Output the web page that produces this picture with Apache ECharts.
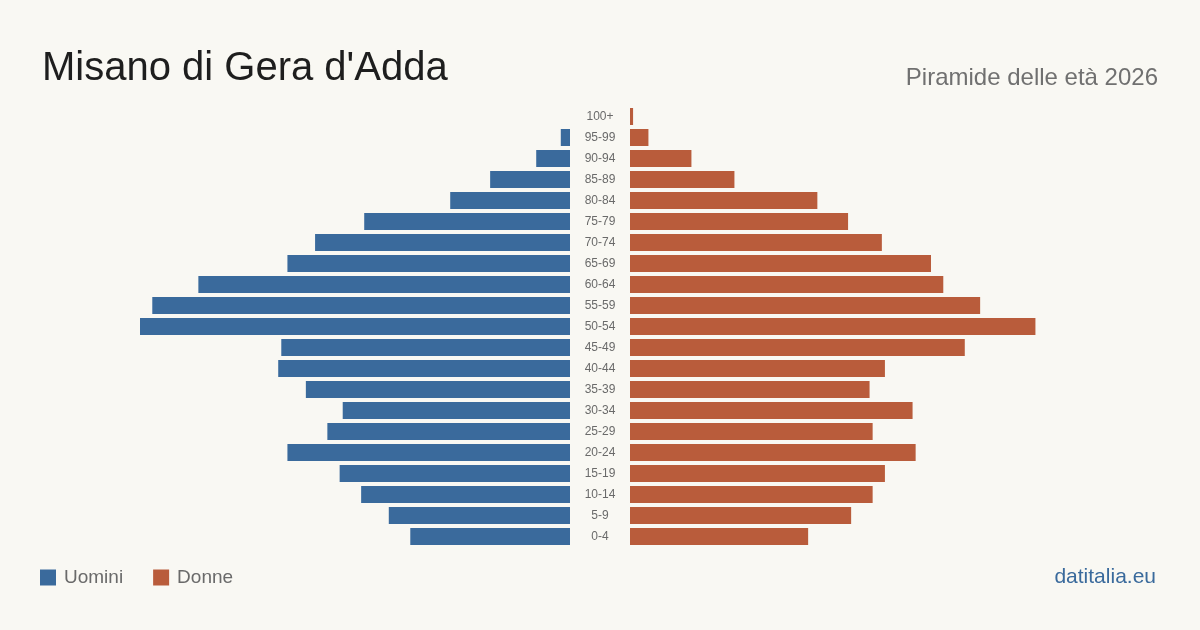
<!DOCTYPE html>
<html>
<head>
<meta charset="utf-8">
<script src="https://cdn.jsdelivr.net/npm/echarts@6/dist/echarts.min.js"></script>
<style>
  html, body { margin: 0; padding: 0; background: #f9f8f3; }
  #chart { width: 1200px; height: 630px; }
</style>
</head>
<body>
<div id="chart"></div>
<script>
// age groups, bottom to top
const ageGroups = ["0-4", "5-9", "10-14", "15-19", "20-24", "25-29", "30-34", "35-39", "40-44", "45-49",
  "50-54", "55-59", "60-64", "65-69", "70-74", "75-79", "80-84", "85-89", "90-94", "95-99", "100+"];
const men = [52, 59, 68, 75, 92, 79, 74, 86, 95, 94, 140, 136, 121, 92, 83, 67, 39, 26, 11, 3, 0];
const women = [58, 72, 79, 83, 93, 79, 92, 78, 83, 109, 132, 114, 102, 98, 82, 71, 61, 34, 20, 6, 1];

const BLUE = "#3a6a9c";
const RED = "#b95c3b";
const FONT = "'Liberation Sans', Arial, sans-serif";
const xMax = 140;

const chart = echarts.init(document.getElementById("chart"));

const hiddenX = { type: "value", max: xMax, min: 0, show: false };

chart.setOption({
  backgroundColor: "#f9f8f3",
  animation: false,
  textStyle: { fontFamily: FONT },
  title: [
    {
      text: "Misano di Gera d'Adda",
      left: 37, top: 44,
      textStyle: { fontSize: 40, fontWeight: "normal", color: "#1e1e1e", fontFamily: FONT },
    },
    {
      text: "Piramide delle età 2026",
      right: 37, top: 61,
      textStyle: { fontSize: 24, fontWeight: "normal", color: "#707070", fontFamily: FONT },
    },
    {
      text: "datitalia.eu",
      right: 39, top: 562,
      textStyle: { fontSize: 21, fontWeight: "normal", color: BLUE, fontFamily: FONT },
    },
  ],
  legend: {
    left: 35, top: 563,
    icon: "rect",
    itemWidth: 16, itemHeight: 16, itemGap: 30,
    textStyle: { fontSize: 19, color: "#6a6a6a", padding: [0, 0, 0, 3] },
    data: ["Uomini", "Donne"],
  },
  grid: [
    { left: 140, width: 430, top: 106, height: 441 },
    { left: 630, width: 430, top: 106, height: 441 },
  ],
  xAxis: [
    Object.assign({ gridIndex: 0, inverse: true }, hiddenX),
    Object.assign({ gridIndex: 1 }, hiddenX),
  ],
  yAxis: [
    {
      type: "category", gridIndex: 0, data: ageGroups,
      axisLine: { show: false }, axisTick: { show: false }, axisLabel: { show: false },
    },
    {
      type: "category", gridIndex: 1, data: ageGroups,
      axisLine: { show: false }, axisTick: { show: false },
      axisLabel: { align: "center", margin: 30, fontSize: 12, color: "#6a6a6a" },
    },
  ],
  series: [
    {
      name: "Uomini", type: "bar", xAxisIndex: 0, yAxisIndex: 0,
      data: men, barCategoryGap: "19%", itemStyle: { color: BLUE },
    },
    {
      name: "Donne", type: "bar", xAxisIndex: 1, yAxisIndex: 1,
      data: women, barCategoryGap: "19%", itemStyle: { color: RED },
    },
  ],
});
</script>
</body>
</html>
